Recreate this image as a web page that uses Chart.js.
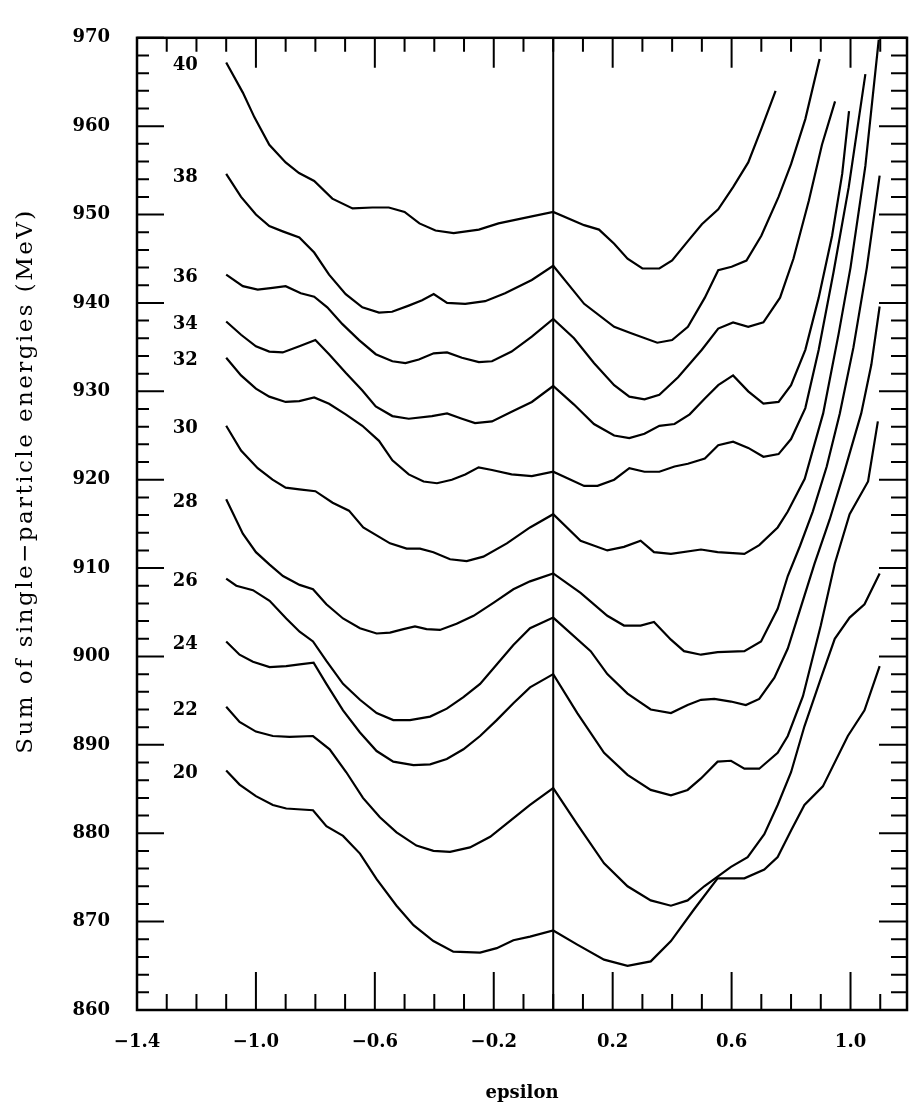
<!DOCTYPE html>
<html>
<head>
<meta charset="utf-8">
<script src="https://cdn.jsdelivr.net/npm/chart.js@4.4.0/dist/chart.umd.min.js"></script>
<style>
  html, body { margin: 0; padding: 0; background: #fff; }
</style>
</head>
<body>
<canvas id="sumChart" width="911" height="1120"></canvas>
<script>
// ── DATA ──
const eps20 = [-1.1, -1.055, -1.0, -0.943, -0.898, -0.808, -0.763, -0.707, -0.65, -0.594, -0.527, -0.47, -0.403, -0.336, -0.246, -0.19, -0.134, -0.078, 0, 0.081, 0.171, 0.25, 0.328, 0.396, 0.474, 0.553, 0.643, 0.71, 0.755, 0.8, 0.845, 0.907, 0.991, 1.047, 1.098];
const mev20 = [887.1, 885.5, 884.2, 883.2, 882.8, 882.6, 880.8, 879.7, 877.7, 874.8, 871.8, 869.6, 867.8, 866.6, 866.5, 867.0, 867.9, 868.3, 869.0, 867.4, 865.7, 865.0, 865.5, 867.8, 871.4, 874.9, 874.9, 875.9, 877.3, 880.3, 883.2, 885.3, 891.0, 893.9, 898.9];

const eps22 = [-1.1, -1.055, -1.0, -0.943, -0.887, -0.808, -0.752, -0.696, -0.64, -0.583, -0.527, -0.46, -0.403, -0.347, -0.28, -0.212, -0.145, -0.078, 0, 0.081, 0.171, 0.25, 0.328, 0.396, 0.452, 0.508, 0.553, 0.598, 0.654, 0.71, 0.755, 0.8, 0.845, 0.9, 0.947, 0.997, 1.047, 1.098];
const mev22 = [894.3, 892.6, 891.5, 891.0, 890.9, 891.0, 889.5, 886.9, 884.0, 881.8, 880.1, 878.6, 878.0, 877.9, 878.4, 879.6, 881.4, 883.2, 885.1, 881.0, 876.6, 874.0, 872.4, 871.8, 872.4, 874.0, 875.1, 876.2, 877.3, 879.9, 883.2, 886.9, 892.1, 897.5, 902.0, 904.4, 905.9, 909.4];

const eps24 = [-1.1, -1.055, -1.01, -0.954, -0.898, -0.853, -0.806, -0.763, -0.707, -0.65, -0.594, -0.538, -0.47, -0.414, -0.358, -0.302, -0.246, -0.19, -0.134, -0.078, 0, 0.081, 0.171, 0.25, 0.328, 0.396, 0.452, 0.497, 0.553, 0.598, 0.643, 0.693, 0.755, 0.789, 0.84, 0.9, 0.947, 0.997, 1.059, 1.092];
const mev24 = [901.7, 900.2, 899.4, 898.8, 898.9, 899.1, 899.3, 896.9, 893.9, 891.4, 889.3, 888.1, 887.7, 887.8, 888.4, 889.5, 891.0, 892.8, 894.7, 896.5, 898.0, 893.6, 889.1, 886.6, 884.9, 884.3, 884.9, 886.2, 888.1, 888.2, 887.3, 887.3, 889.1, 891.0, 895.5, 903.5, 910.5, 916.1, 919.8, 926.6];

const eps26 = [-1.1, -1.066, -1.01, -0.954, -0.898, -0.853, -0.808, -0.763, -0.707, -0.65, -0.594, -0.538, -0.482, -0.414, -0.358, -0.302, -0.246, -0.19, -0.134, -0.078, 0, 0.126, 0.182, 0.25, 0.328, 0.396, 0.452, 0.497, 0.542, 0.598, 0.648, 0.693, 0.744, 0.789, 0.834, 0.879, 0.93, 0.98, 1.036, 1.07, 1.098];
const mev26 = [908.8, 908.0, 907.5, 906.3, 904.3, 902.8, 901.7, 899.5, 896.9, 895.1, 893.6, 892.8, 892.8, 893.2, 894.1, 895.4, 896.9, 899.1, 901.3, 903.2, 904.4, 900.6, 898.0, 895.8, 894.0, 893.6, 894.5, 895.1, 895.2, 894.9, 894.5, 895.2, 897.6, 900.9, 905.7, 910.5, 915.5, 921.0, 927.5, 933.0, 939.6];

const eps28 = [-1.1, -1.044, -1.0, -0.954, -0.909, -0.853, -0.808, -0.763, -0.707, -0.65, -0.594, -0.549, -0.504, -0.465, -0.426, -0.381, -0.325, -0.268, -0.2, -0.134, -0.078, 0, 0.092, 0.182, 0.238, 0.294, 0.339, 0.396, 0.44, 0.497, 0.553, 0.643, 0.699, 0.755, 0.789, 0.83, 0.873, 0.92, 0.964, 1.01, 1.055, 1.098];
const mev28 = [917.8, 913.9, 911.8, 910.4, 909.1, 908.1, 907.6, 905.9, 904.3, 903.2, 902.6, 902.7, 903.1, 903.4, 903.1, 903.0, 903.7, 904.6, 906.1, 907.6, 908.5, 909.4, 907.2, 904.6, 903.5, 903.5, 903.9, 901.9, 900.6, 900.2, 900.5, 900.6, 901.7, 905.4, 909.1, 912.5, 916.4, 921.5, 927.5, 935.0, 944.0, 954.4];

const eps30 = [-1.1, -1.05, -0.994, -0.944, -0.9, -0.854, -0.8, -0.742, -0.687, -0.639, -0.549, -0.493, -0.448, -0.403, -0.347, -0.291, -0.235, -0.156, -0.078, 0, 0.092, 0.182, 0.238, 0.294, 0.339, 0.396, 0.497, 0.553, 0.643, 0.693, 0.755, 0.789, 0.846, 0.908, 0.96, 1.0, 1.05, 1.095];
const mev30 = [926.1, 923.3, 921.3, 920.0, 919.1, 918.9, 918.7, 917.4, 916.5, 914.6, 912.8, 912.2, 912.2, 911.8, 911.0, 910.8, 911.3, 912.8, 914.6, 916.1, 913.1, 912.0, 912.4, 913.1, 911.8, 911.6, 912.1, 911.8, 911.6, 912.6, 914.6, 916.4, 920.1, 927.5, 936.5, 944.0, 955.5, 969.8];

const eps32 = [-1.1, -1.05, -1.0, -0.955, -0.9, -0.854, -0.804, -0.754, -0.698, -0.642, -0.586, -0.541, -0.486, -0.436, -0.391, -0.341, -0.296, -0.251, -0.206, -0.14, -0.072, 0, 0.104, 0.149, 0.205, 0.256, 0.307, 0.357, 0.408, 0.453, 0.51, 0.555, 0.605, 0.656, 0.707, 0.758, 0.8, 0.848, 0.893, 0.943, 0.994, 1.05];
const mev32 = [933.8, 931.8, 930.3, 929.4, 928.8, 928.9, 929.3, 928.6, 927.4, 926.1, 924.4, 922.2, 920.6, 919.8, 919.6, 920.0, 920.6, 921.4, 921.1, 920.6, 920.4, 920.9, 919.3, 919.3, 920.0, 921.3, 920.9, 920.9, 921.5, 921.8, 922.4, 923.9, 924.3, 923.6, 922.6, 922.9, 924.6, 928.1, 934.7, 943.5, 953.1, 965.9];

const eps34 = [-1.1, -1.05, -1.0, -0.955, -0.91, -0.854, -0.8, -0.754, -0.698, -0.642, -0.597, -0.541, -0.486, -0.408, -0.357, -0.307, -0.263, -0.206, -0.14, -0.072, 0, 0.07, 0.137, 0.205, 0.256, 0.307, 0.357, 0.408, 0.459, 0.51, 0.555, 0.605, 0.656, 0.707, 0.758, 0.8, 0.848, 0.893, 0.938, 0.972, 0.995];
const mev34 = [937.9, 936.4, 935.1, 934.5, 934.4, 935.1, 935.8, 934.2, 932.1, 930.1, 928.3, 927.2, 926.9, 927.2, 927.5, 926.9, 926.4, 926.6, 927.7, 928.8, 930.6, 928.5, 926.3, 925.0, 924.7, 925.2, 926.1, 926.3, 927.4, 929.2, 930.7, 931.8, 930.0, 928.6, 928.8, 930.7, 934.7, 940.6, 947.6, 954.6, 961.7];

const eps36 = [-1.1, -1.044, -0.994, -0.944, -0.9, -0.849, -0.804, -0.76, -0.709, -0.653, -0.597, -0.541, -0.497, -0.452, -0.402, -0.357, -0.307, -0.25, -0.206, -0.14, -0.072, 0, 0.07, 0.137, 0.205, 0.256, 0.307, 0.357, 0.42, 0.5, 0.555, 0.605, 0.656, 0.707, 0.763, 0.808, 0.86, 0.904, 0.948];
const mev36 = [943.2, 941.9, 941.5, 941.7, 941.9, 941.1, 940.7, 939.5, 937.6, 935.8, 934.2, 933.4, 933.2, 933.6, 934.3, 934.4, 933.8, 933.3, 933.4, 934.5, 936.2, 938.2, 936.0, 933.2, 930.7, 929.4, 929.1, 929.6, 931.6, 934.7, 937.1, 937.8, 937.3, 937.8, 940.6, 945.0, 951.6, 957.9, 962.8];

const eps38 = [-1.1, -1.05, -1.0, -0.955, -0.91, -0.854, -0.804, -0.754, -0.698, -0.642, -0.586, -0.542, -0.486, -0.441, -0.402, -0.357, -0.296, -0.229, -0.162, -0.072, 0, 0.104, 0.205, 0.26, 0.35, 0.4, 0.453, 0.51, 0.555, 0.6, 0.65, 0.7, 0.758, 0.8, 0.848, 0.896];
const mev38 = [954.6, 952.0, 950.0, 948.7, 948.1, 947.4, 945.7, 943.2, 941.0, 939.5, 938.9, 939.0, 939.7, 940.3, 941.0, 940.0, 939.9, 940.2, 941.1, 942.6, 944.2, 939.9, 937.3, 936.6, 935.5, 935.8, 937.3, 940.6, 943.7, 944.1, 944.8, 947.6, 952.0, 955.7, 960.8, 967.6];

const eps40 = [-1.1, -1.044, -1.005, -0.955, -0.9, -0.855, -0.804, -0.743, -0.675, -0.608, -0.553, -0.5, -0.45, -0.396, -0.335, -0.25, -0.184, -0.072, 0, 0.104, 0.154, 0.205, 0.25, 0.3, 0.357, 0.4, 0.453, 0.5, 0.555, 0.605, 0.656, 0.7, 0.748];
const mev40 = [967.2, 963.8, 961.0, 957.9, 955.9, 954.7, 953.8, 951.8, 950.7, 950.8, 950.8, 950.3, 949.0, 948.2, 947.9, 948.3, 949.0, 949.8, 950.3, 948.8, 948.3, 946.7, 945.0, 943.9, 943.9, 944.8, 947.0, 948.9, 950.6, 953.1, 955.9, 959.7, 964.0];

const curveLabels = ['20', '22', '24', '26', '28', '30', '32', '34', '36', '38', '40'];
const curveEps = [eps20, eps22, eps24, eps26, eps28, eps30, eps32, eps34, eps36, eps38, eps40];
const curveMev = [mev20, mev22, mev24, mev26, mev28, mev30, mev32, mev34, mev36, mev38, mev40];

const xTickLabels = [-1.4, -1.0, -0.6, -0.2, 0.2, 0.6, 1.0];
const yTickLabels = [860, 870, 880, 890, 900, 910, 920, 930, 940, 950, 960, 970];
const yTitle = 'Sum of single\u2212particle energies (MeV)';

const FONT = '"DejaVu Serif", serif';

// ── frame, inward ticks, epsilon = 0 line, curve labels, y title ──
const framePlugin = {
    id: 'frame',
    beforeDatasetsDraw(chart) {
        const { ctx, chartArea: a, scales: { x, y } } = chart;
        ctx.save();
        ctx.strokeStyle = '#000';
        ctx.lineWidth = 2.5;
        ctx.strokeRect(a.left, a.top, a.right - a.left, a.bottom - a.top);

        ctx.lineWidth = 2;
        // vertical line at epsilon = 0
        const x0 = x.getPixelForValue(0);
        ctx.beginPath();
        ctx.moveTo(x0, a.top);
        ctx.lineTo(x0, a.bottom);
        ctx.stroke();

        // x ticks every 0.1, long every 0.4
        for (let k = -14; k <= 11; k++) {
            const px = x.getPixelForValue(k / 10);
            const major = (k + 14) % 4 === 0;
            ctx.beginPath();
            ctx.moveTo(px, a.bottom);
            ctx.lineTo(px, a.bottom - (major ? 38 : 16));
            ctx.moveTo(px, a.top);
            ctx.lineTo(px, a.top + (major ? 30 : 14));
            ctx.stroke();
        }
        // y ticks every 2, long every 10
        for (let v = 860; v <= 970; v += 2) {
            const py = y.getPixelForValue(v);
            const major = v % 10 === 0;
            ctx.beginPath();
            ctx.moveTo(a.left, py);
            ctx.lineTo(a.left + (major ? 27 : 12), py);
            ctx.moveTo(a.right, py);
            ctx.lineTo(a.right - (major ? 28 : 16), py);
            ctx.stroke();
        }

        // y axis title, spaced out like the original lettering
        ctx.font = '23px ' + FONT;
        const plain = ctx.measureText(yTitle).width;
        ctx.letterSpacing = Math.max(0, (543 - plain) / (yTitle.length - 1)).toFixed(2) + 'px';
        ctx.fillStyle = '#000';
        ctx.textAlign = 'center';
        ctx.textBaseline = 'middle';
        ctx.translate(26, 481);
        ctx.rotate(-Math.PI / 2);
        ctx.fillText(yTitle, 0, 0);
        ctx.restore();
    },
    afterDatasetsDraw(chart) {
        const { ctx } = chart;
        ctx.save();
        ctx.fillStyle = '#000';
        ctx.font = 'bold 18px ' + FONT;
        ctx.textAlign = 'center';
        ctx.textBaseline = 'middle';
        chart.data.datasets.forEach((ds, i) => {
            const p = chart.getDatasetMeta(i).data[0];
            ctx.fillText(ds.label, p.x - 41, p.y + 3);
        });
        ctx.restore();
    }
};

const ctx = document.getElementById('sumChart').getContext('2d');
new Chart(ctx, {
    type: 'scatter',
    data: {
        datasets: curveLabels.map((lab, i) => ({
            label: lab,
            data: curveEps[i].map((e, j) => ({ x: e, y: curveMev[i][j] })),
            showLine: true,
            borderColor: '#000',
            borderWidth: 2.2,
            pointRadius: 0,
            tension: 0,
        }))
    },
    options: {
        responsive: false,
        animation: false,
        layout: { padding: { top: 16, right: 4, left: 0, bottom: 0 } },
        plugins: { legend: { display: false }, tooltip: { enabled: false } },
        scales: {
            x: {
                type: 'linear', min: -1.4, max: 1.19,
                grid: { display: false, drawTicks: false },
                border: { display: false },
                afterBuildTicks: s => { s.ticks = xTickLabels.map(v => ({ value: v })); },
                afterFit: s => { s.height = 110; },
                ticks: {
                    autoSkip: false, maxRotation: 0, padding: 22, color: '#000',
                    font: { family: FONT, size: 18, weight: 'bold' },
                    callback: v => v.toFixed(1).replace('-', '\u2212')
                },
                title: {
                    display: true, text: 'epsilon', color: '#000',
                    font: { family: FONT, size: 18, weight: 'bold' },
                    padding: { top: 0, bottom: 16 }
                }
            },
            y: {
                type: 'linear', min: 860, max: 970,
                grid: { display: false, drawTicks: false },
                border: { display: false },
                afterBuildTicks: s => { s.ticks = yTickLabels.map(v => ({ value: v })); },
                afterFit: s => { s.width = 137; },
                ticks: {
                    padding: 27, color: '#000',
                    font: { family: FONT, size: 18, weight: 'bold' }
                }
            }
        }
    },
    plugins: [framePlugin]
});
</script>
</body>
</html>
